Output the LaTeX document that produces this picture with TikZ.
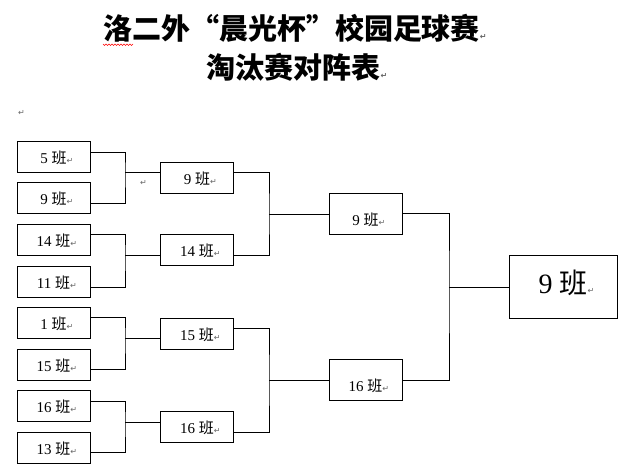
\documentclass[tikz,border=0pt]{standalone}
\usepackage{fontspec}
\setmainfont{Liberation Serif}
\newfontfamily\cjk{Noto Sans CJK SC}
\newfontfamily\retfont{DejaVu Sans}
\usetikzlibrary{calc}
\newcommand{\ret}{\rlap{\retfont\fontsize{8}{8}\selectfont\textcolor{black!60}{↵}}}
\newcommand{\banlabel}[2][0pt]{\raisebox{#1}[\height][\depth]{#2 {\cjk 班}\ret}}

\begin{document}
\begin{tikzpicture}[x=1pt, y=-1pt, line width=0.8pt,
	teambox/.style={draw, minimum width=73pt, minimum height=31pt, inner sep=0pt, font=\fontsize{15}{15}\selectfont},
	semibox/.style={teambox, minimum height=41pt},
	finalbox/.style={draw, minimum width=108pt, minimum height=63pt, inner sep=0pt, font=\fontsize{28}{28}\selectfont},
	titletext/.style={inner sep=0pt, font=\cjk\bfseries\fontsize{29}{29}\selectfont}]

\useasboundingbox[fill=white] (0,0) rectangle (638,471);

% title
\node[titletext] (title1) at (291.5,28) {洛二外“晨光杯”校园足球赛\ret};
\node[titletext] (title2) at (293.5,67) {淘汰赛对阵表\ret};
\draw[red, line width=0.5pt] (103,44) \foreach \i in {1,...,10} { -- ++(1.5,1.5) -- ++(1.5,-1.5) };
\node[inner sep=0pt] (ret0) at (18,113) {\ret};
\node[inner sep=0pt] (ret1) at (140,183) {\ret};

% first round
\foreach \n/\y/\t in {1/157/5, 2/198/9, 3/239.5/14, 4/282/11, 5/322.5/1, 6/364.5/15, 7/406/16, 8/447.5/13}
	\node[teambox] (t\n) at (53.5,\y) {\banlabel[-1pt]{\t}};

% second round
\foreach \n/\y/\t in {1/177.5/9, 2/250/14, 3/333.5/15, 4/427/16}
	\node[teambox] (s\n) at (197,\y) {\banlabel[-1pt]{\t}};

\node[semibox] (q1) at (365.5,213.5) {\banlabel[-6pt]{9}};
\node[semibox] (q2) at (365.5,380) {\banlabel[-6pt]{16}};
\node[finalbox] (w) at (563,286.5) {\banlabel[4pt]{9}};

% junctions
\foreach \n/\y in {1/172, 2/255, 3/338, 4/422}
	\coordinate (k\n) at (125,\y);
\coordinate (m1) at (269,214);
\coordinate (m2) at (269,380);
\coordinate (f) at (449,287);

\foreach \n/\a/\b in {1/1/2, 2/3/4, 3/5/6, 4/7/8} {
	\draw ($(t\a.east)+(0,-5)$) -| (k\n) |- ($(t\b.east)+(0,5)$);
	\draw (k\n) -- (k\n -| s\n.west);
}
\foreach \n/\a/\b in {1/1/2, 2/3/4} {
	\draw ($(s\a.east)+(0,-5)$) -| (m\n) |- ($(s\b.east)+(0,5)$);
	\draw (m\n) -- (m\n -| q\n.west);
}
\draw (q1.east) -| (f) |- (q2.east);
\draw (f) -- (f -| w.west);
\end{tikzpicture}
\end{document}
